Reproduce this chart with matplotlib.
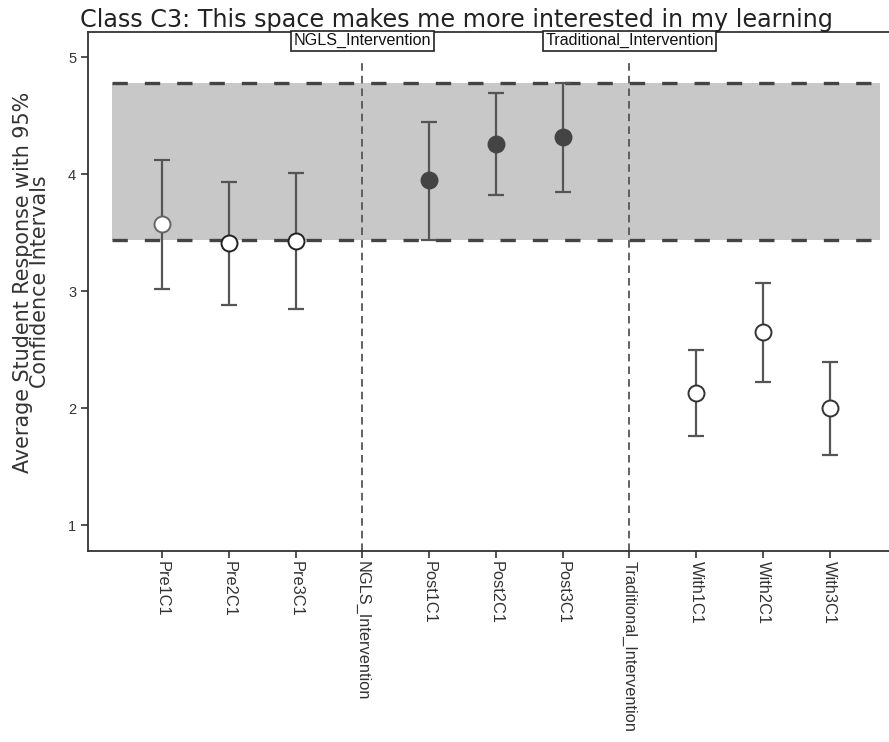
import matplotlib.pyplot as plt
from matplotlib import font_manager

# Category labels along the x axis (two intervention markers included)
labels = ['Pre1C1', 'Pre2C1', 'Pre3C1', 'NGLS_Intervention',
          'Post1C1', 'Post2C1', 'Post3C1', 'Traditional_Intervention',
          'With1C1', 'With2C1', 'With3C1']

# Mean responses and 95% CI bounds per group
pre_means = [3.57, 3.41, 3.43]
pre_lower = [3.02, 2.88, 2.85]
pre_upper = [4.12, 3.93, 4.01]

post_means = [3.95, 4.26, 4.32]
post_lower = [3.44, 3.82, 3.85]
post_upper = [4.45, 4.69, 4.78]

with_means = [2.13, 2.65, 2.00]
with_lower = [1.76, 2.22, 1.60]
with_upper = [2.50, 3.07, 2.39]

# Reference band (post-intervention CI range)
band_low = 3.44
band_high = 4.78

pre_x = [0, 1, 2]
post_x = [4, 5, 6]
with_x = [8, 9, 10]
intervention_x = [3, 7]
intervention_names = ['NGLS_Intervention', 'Traditional_Intervention']

names = [f.name for f in font_manager.fontManager.ttflist]
narrow = 'Liberation Sans Narrow' if 'Liberation Sans Narrow' in names else 'Liberation Sans'

plt.rcParams['font.family'] = ['Liberation Sans', 'DejaVu Sans']

fig = plt.figure(figsize=(8.89, 7.42), dpi=100)
ax = fig.add_axes([0.099, 0.2574, 0.905, 0.6995])

ax.set_xlim(-1.11, 10.94)
ax.set_ylim(0.778, 5.216)

# shaded band with dashed edges
ax.fill_between([-0.75, 10.75], band_low, band_high, color='#c8c8c8', zorder=0, linewidth=0)
for yv in (band_low, band_high):
    ax.plot([-0.75, 10.75], [yv, yv], color='#444444', lw=2.4,
            dashes=(4.6, 5.1), zorder=1)

# vertical intervention markers
for xv, name in zip(intervention_x, intervention_names):
    ax.plot([xv, xv], [0.778, 4.98], color='#555555', lw=1.3,
            dashes=(4.2, 2.8), zorder=1)
    ax.text(xv, 5.205, name, ha='center', va='top', fontsize=11.6,
            family=narrow, color='#111111',
            bbox=dict(boxstyle='square,pad=0.15', facecolor='white',
                      edgecolor='#222222', linewidth=1.2))


def draw_group(xs, means, lower, upper, face, edges):
    err = [[m - lo for m, lo in zip(means, lower)],
           [hi - m for m, hi in zip(means, upper)]]
    ax.errorbar(xs, means, yerr=err, fmt='none', ecolor='#555555',
                elinewidth=1.6, capsize=6, capthick=1.6, zorder=3)
    for x, m, ec in zip(xs, means, edges):
        ax.plot(x, m, 'o', markersize=11.5, markerfacecolor=face,
                markeredgecolor=ec, markeredgewidth=1.4, zorder=4)


draw_group(pre_x, pre_means, pre_lower, pre_upper, 'white',
           ['#666666', '#222222', '#222222'])
draw_group(post_x, post_means, post_lower, post_upper, '#444444',
           ['#444444'] * 3)
draw_group(with_x, with_means, with_lower, with_upper, 'white',
           ['#333333'] * 3)

ax.set_xticks(range(len(labels)))
ax.set_xticklabels(labels, rotation=-90, fontsize=11.8, color='#222222')
ax.set_yticks([1, 2, 3, 4, 5])
ax.tick_params(axis='y', labelsize=10.5, length=5, width=1.2, colors='#333333')
ax.tick_params(axis='x', length=5, width=1.2, colors='#333333', pad=2)

for side in ('left', 'bottom', 'top'):
    ax.spines[side].set_linewidth(1.3)
    ax.spines[side].set_color('#333333')
ax.spines['right'].set_visible(False)

ax.set_ylabel('Average Student Response with 95%\nConfidence Intervals',
              fontsize=14.9, family='DejaVu Sans', color='#333333',
              linespacing=0.82)
ax.yaxis.set_label_coords(-0.047, 0.518)

fig.text(0.09, 1 - 27 / 742, 'Class C3: This space makes me more interested in my learning',
         fontsize=17.2, family='DejaVu Sans', color='#222222',
         ha='left', va='baseline')

fig.savefig('out.png', dpi=100, facecolor='white')
